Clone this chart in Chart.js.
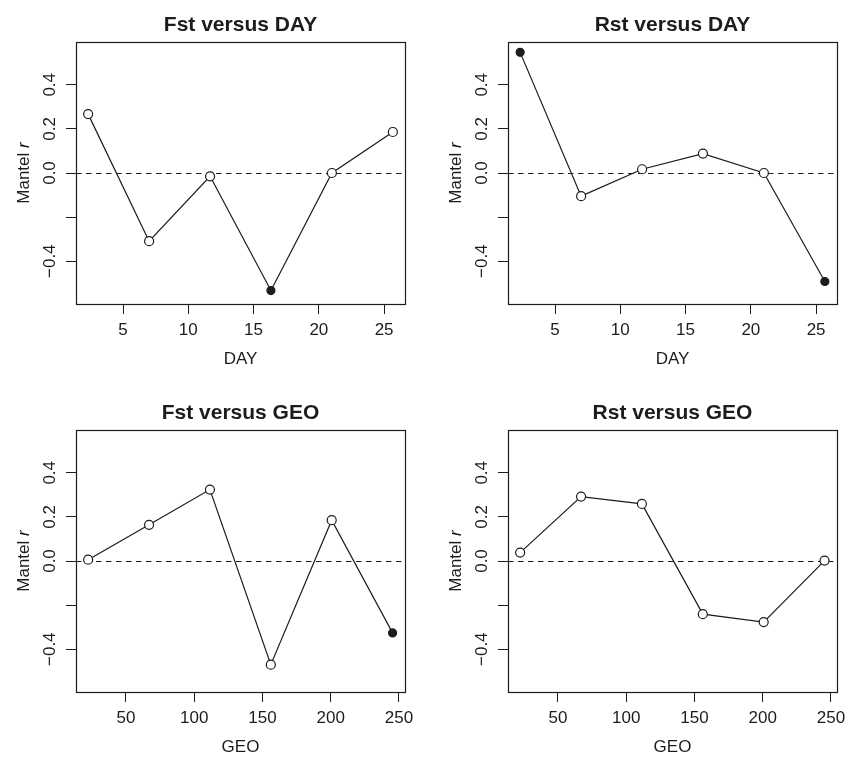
<!DOCTYPE html>
<html>
<head>
<meta charset="utf-8">
<script src="https://cdn.jsdelivr.net/npm/chart.js@4"></script>
<style>
  body { margin: 0; background: #fff; }
  #page { position: relative; width: 847px; height: 758px; }
  #page canvas { position: absolute; }
</style>
</head>
<body>
<div id="page">
  <canvas id="fstDay" width="424" height="370" style="left:0;top:0"></canvas>
  <canvas id="rstDay" width="415" height="370" style="left:432px;top:0"></canvas>
  <canvas id="fstGeo" width="424" height="370" style="left:0;top:388px"></canvas>
  <canvas id="rstGeo" width="415" height="370" style="left:432px;top:388px"></canvas>
</div>
<script>
// x positions of the six classes
const dayX = [2.33, 7.0, 11.67, 16.33, 21.0, 25.67];
const geoX = [22.3, 66.9, 111.5, 156.1, 200.7, 245.3];

// Mantel r per class
const fstDay = [0.267, -0.309, -0.015, -0.533, 0.0, 0.186];
const rstDay = [0.547, -0.105, 0.017, 0.088, 0.0, -0.492];
const fstGeo = [0.006, 0.164, 0.324, -0.470, 0.185, -0.326];
const rstGeo = [0.038, 0.292, 0.259, -0.241, -0.277, 0.002];

// significant classes (filled dots)
const fstDaySig = [false, false, false, true, false, false];
const rstDaySig = [true, false, false, false, false, true];
const fstGeoSig = [false, false, false, false, false, true];
const rstGeoSig = [false, false, false, false, false, false];

// axes
const dayTicks = [5, 10, 15, 20, 25];
const geoTicks = [50, 100, 150, 200, 250];
const dayRange = [1.4, 26.6];
const geoRange = [13.4, 254.4];
const yTicks = [-0.4, -0.2, 0.0, 0.2, 0.4];
const yTickLabels = ["\u22120.4", "", "0.0", "0.2", "0.4"];
const yRange = [-0.594, 0.594];

const INK = "#1c1c1c";
const FONT = "'Liberation Sans', Arial, Helvetica, sans-serif";

// box, dashed zero line, rotated y labels and titles, R style
const rPlotPlugin = {
  id: "rPlot",
  beforeDatasetsDraw(chart) {
    const { ctx, chartArea } = chart;
    const y0 = chart.scales.y.getPixelForValue(0);
    ctx.save();
    ctx.strokeStyle = INK;
    ctx.lineWidth = 1.2;
    ctx.setLineDash([5.5, 4.5]);
    ctx.beginPath();
    ctx.moveTo(chartArea.left, Math.round(y0) + 0.5);
    ctx.lineTo(chartArea.right, Math.round(y0) + 0.5);
    ctx.stroke();
    ctx.restore();
  },
  afterDraw(chart, args, opts) {
    const { ctx, chartArea } = chart;
    const yScale = chart.scales.y;
    ctx.save();
    ctx.strokeStyle = INK;
    ctx.lineWidth = 1.2;
    ctx.strokeRect(chartArea.left + 0.5, chartArea.top + 0.5,
      chartArea.right - chartArea.left, chartArea.bottom - chartArea.top);

    ctx.fillStyle = INK;
    // y tick labels, rotated as in R (las = 0)
    ctx.font = "17px " + FONT;
    ctx.textAlign = "center";
    ctx.textBaseline = "middle";
    yScale.ticks.forEach((t, i) => {
      const label = yTickLabels[i];
      if (!label) return;
      ctx.save();
      ctx.translate(50, yScale.getPixelForValue(t.value));
      ctx.rotate(-Math.PI / 2);
      ctx.fillText(label, 0, 0);
      ctx.restore();
    });

    // y axis title: "Mantel r" with italic r
    const cy = (chartArea.top + chartArea.bottom) / 2;
    const plain = "17px " + FONT;
    const ital = "italic 17px " + FONT;
    ctx.font = plain;
    const w1 = ctx.measureText("Mantel ").width;
    ctx.font = ital;
    const w2 = ctx.measureText("r").width;
    ctx.save();
    ctx.translate(28.5, cy);
    ctx.rotate(-Math.PI / 2);
    ctx.textAlign = "left";
    ctx.textBaseline = "alphabetic";
    ctx.font = plain;
    ctx.fillText("Mantel ", -(w1 + w2) / 2, 0);
    ctx.font = ital;
    ctx.fillText("r", -(w1 + w2) / 2 + w1, 0);
    ctx.restore();

    // main title
    ctx.font = "bold 21px " + FONT;
    ctx.textAlign = "center";
    ctx.textBaseline = "alphabetic";
    ctx.fillText(opts.text, (chartArea.left + chartArea.right) / 2, 31);
    ctx.restore();
  },
};

function makePanel(canvasId, title, xLabel, xs, ys, sig, xTicks, xRange) {
  const canvas = document.getElementById(canvasId);
  const points = xs.map((x, i) => ({ x: x, y: ys[i] }));

  new Chart(canvas.getContext("2d"), {
    type: "scatter",
    data: {
      datasets: [
        {
          data: points,
          showLine: true,
          borderColor: INK,
          borderWidth: 1.2,
          pointRadius: sig.map((s) => (s ? 4 : 4.5)),
          pointBorderWidth: 1.2,
          pointBorderColor: INK,
          pointBackgroundColor: sig.map((s) => (s ? INK : "#ffffff")),
        },
      ],
    },
    options: {
      responsive: false,
      animation: false,
      events: [],
      layout: {
        padding: { left: 0, top: 42, right: canvas.width - 405, bottom: 0 },
      },
      plugins: {
        legend: { display: false },
        tooltip: { enabled: false },
        rPlot: { text: title },
      },
      scales: {
        x: {
          type: "linear",
          min: xRange[0],
          max: xRange[1],
          afterBuildTicks: (s) => {
            s.ticks = xTicks.map((v) => ({ value: v }));
          },
          afterFit: (s) => {
            s.height = 66;
            s.paddingLeft = 0;
            s.paddingRight = 0;
          },
          grid: {
            drawOnChartArea: false,
            drawTicks: true,
            tickLength: 10,
            color: INK,
            lineWidth: 1,
          },
          border: { display: false },
          ticks: {
            color: INK,
            padding: 6,
            maxRotation: 0,
            autoSkip: false,
            font: { family: FONT, size: 17 },
          },
          title: {
            display: true,
            text: xLabel,
            color: INK,
            padding: 0,
            font: { family: FONT, size: 17 },
          },
        },
        y: {
          type: "linear",
          min: yRange[0],
          max: yRange[1],
          afterBuildTicks: (s) => {
            s.ticks = yTicks.map((v) => ({ value: v }));
          },
          afterFit: (s) => {
            s.width = 76;
          },
          grid: {
            drawOnChartArea: false,
            drawTicks: true,
            tickLength: 10,
            color: INK,
            lineWidth: 1,
          },
          border: { display: false },
          ticks: { display: false },
        },
      },
    },
    plugins: [rPlotPlugin],
  });
}

makePanel("fstDay", "Fst versus DAY", "DAY", dayX, fstDay, fstDaySig, dayTicks, dayRange);
makePanel("rstDay", "Rst versus DAY", "DAY", dayX, rstDay, rstDaySig, dayTicks, dayRange);
makePanel("fstGeo", "Fst versus GEO", "GEO", geoX, fstGeo, fstGeoSig, geoTicks, geoRange);
makePanel("rstGeo", "Rst versus GEO", "GEO", geoX, rstGeo, rstGeoSig, geoTicks, geoRange);
</script>
</body>
</html>
